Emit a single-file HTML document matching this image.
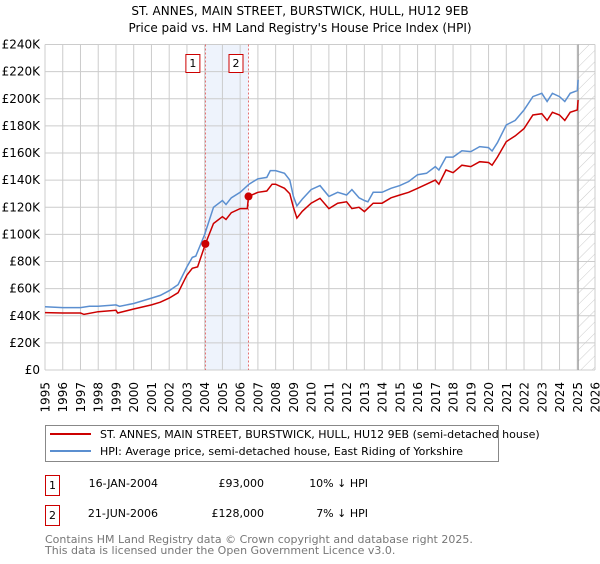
<!DOCTYPE html>
<html><head><meta charset="utf-8">
<style>
body{margin:0;background:#fff;font-family:"DejaVu Sans","Liberation Sans",sans-serif;}
svg text{font-family:"DejaVu Sans","Liberation Sans",sans-serif;}
</style></head>
<body>
<svg width="600" height="560" xmlns="http://www.w3.org/2000/svg">
<defs>
<pattern id="hatch" width="8" height="8" patternUnits="userSpaceOnUse" patternTransform="rotate(45)">
<line x1="0" y1="0" x2="0" y2="8" stroke="#ccc" stroke-width="1"/>
</pattern>
</defs>
<text x="300" y="15" text-anchor="middle" font-size="12">ST. ANNES, MAIN STREET, BURSTWICK, HULL, HU12 9EB</text>
<text x="300" y="32" text-anchor="middle" font-size="12">Price paid vs. HM Land Registry's House Price Index (HPI)</text>
<g id="grid"></g>
<g id="marks"></g>
<g id="axes"></g>

<rect x="45.5" y="425.5" width="453" height="36" fill="none" stroke="#888"/>
<line x1="50" y1="434" x2="91" y2="434" stroke="#cc0000" stroke-width="2"/>
<text x="100" y="438" font-size="11">ST. ANNES, MAIN STREET, BURSTWICK, HULL, HU12 9EB (semi-detached house)</text>
<line x1="50" y1="451" x2="91" y2="451" stroke="#5b8fd0" stroke-width="2"/>
<text x="100" y="455" font-size="11">HPI: Average price, semi-detached house, East Riding of Yorkshire</text>

<rect x="45.5" y="475.5" width="14" height="20" fill="#fff" stroke="#cc0000"/>
<text x="52.5" y="489" text-anchor="middle" font-size="11">1</text>
<text x="158" y="487" text-anchor="end" font-size="11">16-JAN-2004</text>
<text x="264" y="487" text-anchor="end" font-size="11">£93,000</text>
<text x="368" y="487" text-anchor="end" font-size="11">10% ↓ HPI</text>
<rect x="45.5" y="505.5" width="14" height="20" fill="#fff" stroke="#cc0000"/>
<text x="52.5" y="519" text-anchor="middle" font-size="11">2</text>
<text x="158" y="517" text-anchor="end" font-size="11">21-JUN-2006</text>
<text x="264" y="517" text-anchor="end" font-size="11">£128,000</text>
<text x="368" y="517" text-anchor="end" font-size="11">7% ↓ HPI</text>
<text x="45" y="543" font-size="11" fill="#777">Contains HM Land Registry data © Crown copyright and database right 2025.</text>
<text x="45" y="554" font-size="11" fill="#777">This data is licensed under the Open Government Licence v3.0.</text>
</svg>
<script>
const yTicks=[0,20,40,60,80,100,120,140,160,180,200,220,240];
const xYears=[1995,1996,1997,1998,1999,2000,2001,2002,2003,2004,2005,2006,2007,2008,2009,2010,2011,2012,2013,2014,2015,2016,2017,2018,2019,2020,2021,2022,2023,2024,2025,2026];
const hpiT=[1995,1996,1997,1997.5,1998,1999,1999.2,2000,2001,2001.5,2002,2002.5,2003,2003.3,2003.5,2004,2004.5,2005,2005.2,2005.5,2006,2006.5,2007,2007.5,2007.7,2008,2008.5,2008.8,2009,2009.2,2009.5,2010,2010.5,2011,2011.5,2012,2012.3,2012.7,2013,2013.2,2013.5,2014,2014.5,2015,2015.5,2016,2016.5,2017,2017.2,2017.6,2018,2018.5,2019,2019.5,2020,2020.2,2020.5,2021,2021.5,2022,2022.5,2023,2023.3,2023.6,2024,2024.3,2024.6,2025,2025.05];
const hpiV=[46.7,46,46,47,47,48,47,49,53,55,58.5,63,76,83,84,100,120,125,122,127,131,137,141,142,147,147,145,140,128,121,126,133,136,128,131,129,133,127,125,124,131,131,134,136,139,144,145,150,147.5,157,157,161.6,161,164.7,164,161.5,167.6,180.7,184,191.7,201.6,204,198,204,201.6,198,204,206,214];
const priceT=[1995,1996,1997,1997.2,1998,1999,1999.1,2000,2001,2001.5,2002,2002.5,2003,2003.3,2003.6,2004.04,2004.5,2005,2005.2,2005.5,2006,2006.4,2006.47,2007,2007.5,2007.8,2008,2008.5,2008.8,2009,2009.2,2009.5,2010,2010.5,2011,2011.5,2012,2012.3,2012.7,2013,2013.5,2014,2014.5,2015,2015.5,2016,2016.5,2017,2017.2,2017.6,2018,2018.5,2019,2019.5,2020,2020.2,2020.5,2021,2021.5,2022,2022.5,2023,2023.3,2023.6,2024,2024.3,2024.6,2025,2025.05];
const priceV=[42.3,42,42,41,43,44,42,45,48,50,53,57,70,75,76,93,108,113,111,116,119,119,128,131,132,137,137,134,130,120,112,117,123,126.6,119,123,124,119,120,116.8,123,123,127,129,131,134,137,140,137,147.5,145.5,151,150,153.6,153,151,157,168.4,172.6,178,188,189,184,190,188,184,190,191.7,199];
const saleT=[2004.04,2006.47];
const saleV=[93,128];
const saleLabels=["1","2"];
const dataEnd=2025.05;

const NS="http://www.w3.org/2000/svg";
const X0=45,X1=595,Y0=370,Y1=44.5;
const xs=t=>X0+(t-1995)/(2026-1995)*(X1-X0);
const ys=v=>Y0-v/240*(Y0-Y1);
function mk(tag,attrs,parent){const e=document.createElementNS(NS,tag);for(const k in attrs)e.setAttribute(k,attrs[k]);document.getElementById(parent).appendChild(e);return e;}
// shaded band
let band=mk('rect',{x:xs(saleT[0]),y:Y1,width:xs(saleT[1])-xs(saleT[0]),height:Y0-Y1,fill:'#eef3fc'},'grid');


let hz=mk('rect',{x:xs(dataEnd),y:Y1,width:X1-xs(dataEnd),height:Y0-Y1,fill:'url(#hatch)'},'grid');


yTicks.forEach(v=>{
 const l=mk('line',{x1:X0,x2:X1,y1:ys(v),y2:ys(v),stroke:'#ccc'},'grid');
 
 
 const t=mk('text',{x:40,y:ys(v)+4,'text-anchor':'end','font-size':12},'axes');
 
 
 t.textContent='£'+(v===0?'0':v+'K');
});
xYears.forEach(y=>{
 const l=mk('line',{x1:xs(y),x2:xs(y),y1:Y1,y2:Y0,stroke:'#ccc'},'grid');
 
 
 const t=mk('text',{x:0,y:0,'text-anchor':'end','font-size':12,transform:`translate(${xs(y)+4.5},382) rotate(-90)`},'axes');
 
 
 t.textContent=y;
});
let el=mk('line',{x1:xs(dataEnd),x2:xs(dataEnd),y1:Y1,y2:Y0,stroke:'#999','stroke-width':1.2},'grid');


saleT.forEach((t,i)=>{
 const l=mk('line',{x1:xs(t),x2:xs(t),y1:Y1,y2:Y0,stroke:'#e05050','stroke-dasharray':'2,2','stroke-width':0.8},'marks');
 
 
});
const pts=(T,V)=>T.map((t,i)=>xs(t).toFixed(1)+','+ys(V[i]).toFixed(1)).join(' ');
let hp=mk('polyline',{points:pts(hpiT,hpiV),fill:'none',stroke:'#5b8fd0','stroke-width':1.5},'marks');


let pp=mk('polyline',{points:pts(priceT,priceV),fill:'none',stroke:'#cc0000','stroke-width':1.5},'marks');


saleT.forEach((t,i)=>{
 const c=mk('circle',{cx:xs(t),cy:ys(saleV[i]),r:4,fill:'#cc0000'},'marks');
 
 
 const r=mk('rect',{x:xs(t)-19.5,y:54.5,width:14,height:18,fill:'#fff',stroke:'#cc0000'},'marks');
 
 
 const tx=mk('text',{x:xs(t)-12.5,y:67,'text-anchor':'middle','font-size':11},'marks');
 
 
 tx.textContent=saleLabels[i];
});
</script>
</body></html>
